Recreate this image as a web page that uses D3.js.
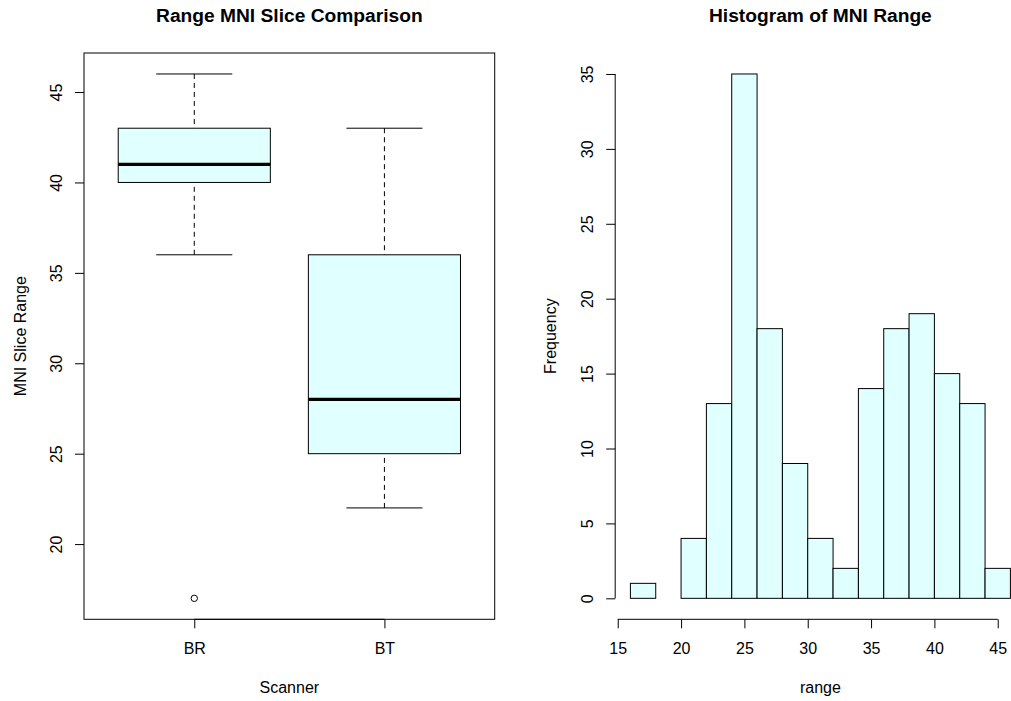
<!DOCTYPE html>
<html>
<head>
<meta charset="utf-8">
<script src="https://cdn.jsdelivr.net/npm/d3@7"></script>
<style>
  body { margin: 0; background: #fff; }
  text { font-family: "Liberation Sans", Arial, sans-serif; fill: #000; }
</style>
</head>
<body>
<div id="draw_here"></div>
<script type="text/javascript">
    // Data
    scanners = ["BR", "BT"]
    whisker_lo = [36, 22]
    q1 = [40, 25]
    median = [41, 28]
    q3 = [43, 36]
    whisker_hi = [46, 43]
    outlier_group = ["BR"]
    outlier_value = [17]
    box_ticks = [20, 25, 30, 35, 40, 45]

    hist_breaks = [16, 18, 20, 22, 24, 26, 28, 30, 32, 34, 36, 38, 40, 42, 44, 46]
    hist_counts = [1, 0, 4, 13, 35, 18, 9, 4, 2, 14, 18, 19, 15, 13, 2]
    hist_x_ticks = [15, 20, 25, 30, 35, 40, 45]
    hist_y_ticks = [0, 5, 10, 15, 20, 25, 30, 35]

    canvas = ({width: 1011, height: 701})
    fill_col = "#E0FFFF"
    plot_top = 53
    plot_bottom = 619.3
    tick_len = 9
    fs = 16

    // R style 4% padding
    pad = (lo, hi) => [lo - (hi - lo) * 0.04, hi + (hi - lo) * 0.04]

    svg = d3.select("div#draw_here").append("svg")
        .attr("width", canvas.width)
        .attr("height", canvas.height)
        .attr("viewBox", [0, 0, canvas.width, canvas.height])

    // ---------- Left: boxplot ----------
    all_vals = whisker_lo.concat(whisker_hi, outlier_value)
    y_1 = d3.scaleLinear()
        .domain(pad(d3.min(all_vals), d3.max(all_vals)))
        .range([plot_bottom, plot_top])
    x_1 = d3.scaleLinear()
        .domain(pad(0.5, scanners.length + 0.5))
        .range([84, 494.7])
    pos = i => x_1(i + 1)

    g1 = svg.append("g")

    boxes = g1.selectAll("g.box").data(scanners).join("g").attr("class", "box")

    // dashed whiskers
    boxes.append("line")
        .attr("x1", (d, i) => pos(i)).attr("x2", (d, i) => pos(i))
        .attr("y1", (d, i) => y_1(whisker_lo[i])).attr("y2", (d, i) => y_1(q1[i]))
        .attr("stroke", "#000").attr("stroke-dasharray", "5,4")
    boxes.append("line")
        .attr("x1", (d, i) => pos(i)).attr("x2", (d, i) => pos(i))
        .attr("y1", (d, i) => y_1(whisker_hi[i])).attr("y2", (d, i) => y_1(q3[i]))
        .attr("stroke", "#000").attr("stroke-dasharray", "5,4")
    // caps
    ;[whisker_lo, whisker_hi].forEach(arr => {
        boxes.append("line")
            .attr("x1", (d, i) => x_1(i + 1 - 0.2)).attr("x2", (d, i) => x_1(i + 1 + 0.2))
            .attr("y1", (d, i) => y_1(arr[i])).attr("y2", (d, i) => y_1(arr[i]))
            .attr("stroke", "#000")
    })
    // box
    boxes.append("rect")
        .attr("x", (d, i) => x_1(i + 1 - 0.4))
        .attr("width", (d, i) => x_1(i + 1 + 0.4) - x_1(i + 1 - 0.4))
        .attr("y", (d, i) => y_1(q3[i]))
        .attr("height", (d, i) => y_1(q1[i]) - y_1(q3[i]))
        .attr("fill", fill_col).attr("stroke", "#000")
    // median
    boxes.append("line")
        .attr("x1", (d, i) => x_1(i + 1 - 0.4)).attr("x2", (d, i) => x_1(i + 1 + 0.4))
        .attr("y1", (d, i) => y_1(median[i])).attr("y2", (d, i) => y_1(median[i]))
        .attr("stroke", "#000").attr("stroke-width", 3.2)
    // outliers
    g1.selectAll("circle.out").data(outlier_value).join("circle")
        .attr("class", "out")
        .attr("cx", (d, i) => pos(scanners.indexOf(outlier_group[i])))
        .attr("cy", d => y_1(d))
        .attr("r", 3.2)
        .attr("fill", "none").attr("stroke", "#000")

    // frame
    g1.append("rect")
        .attr("x", x_1.range()[0]).attr("y", plot_top)
        .attr("width", x_1.range()[1] - x_1.range()[0])
        .attr("height", plot_bottom - plot_top)
        .attr("fill", "none").attr("stroke", "#000")

    // y axis
    yAxis_1 = g => g
        .attr("transform", `translate(${x_1.range()[0]},0)`)
        .call(d3.axisLeft(y_1).tickValues(box_ticks).tickSize(tick_len).tickSizeOuter(0).tickFormat(d3.format("d")))
    g1.append("g").call(yAxis_1)
        .call(g => g.select(".domain").remove())
        .call(g => g.selectAll(".tick line").attr("stroke", "#000"))
        .call(g => g.selectAll(".tick text")
            .attr("transform", "rotate(-90)")
            .attr("x", 0).attr("y", -22.3).attr("dy", null)
            .attr("text-anchor", "middle")
            .style("font-size", fs + "px"))
    g1.select("g").attr("font-family", null).attr("font-size", null)

    // x axis
    xAxis_1 = g => g
        .attr("transform", `translate(0,${plot_bottom})`)
        .call(d3.axisBottom(x_1).tickValues([1, 2]).tickSize(tick_len).tickSizeOuter(0)
            .tickFormat(d => scanners[d - 1]))
    g1.append("g").call(xAxis_1)
        .attr("font-family", null).attr("font-size", null)
        .call(g => g.select(".domain").attr("d", `M${x_1(1)},0H${x_1(2)}`).attr("stroke", "#000"))
        .call(g => g.selectAll(".tick line").attr("stroke", "#000"))
        .call(g => g.selectAll(".tick text").attr("y", 35).attr("dy", null).style("font-size", fs + "px"))

    g1.append("text")
        .attr("x", (x_1.range()[0] + x_1.range()[1]) / 2).attr("y", 21.5)
        .attr("text-anchor", "middle")
        .style("font-size", "19.2px").style("font-weight", "bold")
        .text("Range MNI Slice Comparison")
    g1.append("text")
        .attr("x", (x_1.range()[0] + x_1.range()[1]) / 2).attr("y", 693.3)
        .attr("text-anchor", "middle").style("font-size", fs + "px")
        .text("Scanner")
    g1.append("text")
        .attr("transform", `translate(25.7,${(plot_top + plot_bottom) / 2}) rotate(-90)`)
        .attr("text-anchor", "middle").style("font-size", fs + "px")
        .text("MNI Slice Range")

    // ---------- Right: histogram ----------
    x_2 = d3.scaleLinear()
        .domain(pad(hist_breaks[0], hist_breaks[hist_breaks.length - 1]))
        .range([615.2, 1025.6])
    y_2 = d3.scaleLinear()
        .domain(pad(0, d3.max(hist_counts)))
        .range([plot_bottom, plot_top])

    g2 = svg.append("g")

    g2.selectAll("rect.bar").data(hist_counts).join("rect")
        .attr("class", "bar")
        .attr("x", (d, i) => x_2(hist_breaks[i]))
        .attr("width", (d, i) => x_2(hist_breaks[i + 1]) - x_2(hist_breaks[i]))
        .attr("y", d => y_2(d))
        .attr("height", d => y_2(0) - y_2(d))
        .attr("fill", fill_col).attr("stroke", "#000")

    yAxis_2 = g => g
        .attr("transform", `translate(${x_2.range()[0]},0)`)
        .call(d3.axisLeft(y_2).tickValues(hist_y_ticks).tickSize(tick_len).tickSizeOuter(0))
    g2.append("g").call(yAxis_2)
        .attr("font-family", null).attr("font-size", null)
        .call(g => g.select(".domain")
            .attr("d", `M0,${y_2(hist_y_ticks[0])}V${y_2(hist_y_ticks[hist_y_ticks.length - 1])}`)
            .attr("stroke", "#000"))
        .call(g => g.selectAll(".tick line").attr("stroke", "#000"))
        .call(g => g.selectAll(".tick text")
            .attr("transform", "rotate(-90)")
            .attr("x", 0).attr("y", -22.3).attr("dy", null)
            .attr("text-anchor", "middle")
            .style("font-size", fs + "px"))

    xAxis_2 = g => g
        .attr("transform", `translate(0,${plot_bottom})`)
        .call(d3.axisBottom(x_2).tickValues(hist_x_ticks).tickSize(tick_len).tickSizeOuter(0))
    g2.append("g").call(xAxis_2)
        .attr("font-family", null).attr("font-size", null)
        .call(g => g.select(".domain")
            .attr("d", `M${x_2(hist_x_ticks[0])},0H${x_2(hist_x_ticks[hist_x_ticks.length - 1])}`)
            .attr("stroke", "#000"))
        .call(g => g.selectAll(".tick line").attr("stroke", "#000"))
        .call(g => g.selectAll(".tick text").attr("y", 35).attr("dy", null).style("font-size", fs + "px"))

    g2.append("text")
        .attr("x", (x_2.range()[0] + x_2.range()[1]) / 2).attr("y", 21.5)
        .attr("text-anchor", "middle")
        .style("font-size", "19.2px").style("font-weight", "bold")
        .text("Histogram of MNI Range")
    g2.append("text")
        .attr("x", (x_2.range()[0] + x_2.range()[1]) / 2).attr("y", 693.3)
        .attr("text-anchor", "middle").style("font-size", fs + "px")
        .text("range")
    g2.append("text")
        .attr("transform", `translate(${x_2.range()[0] - 59},${(plot_top + plot_bottom) / 2}) rotate(-90)`)
        .attr("text-anchor", "middle").style("font-size", fs + "px")
        .text("Frequency")
</script>
</body>
</html>
